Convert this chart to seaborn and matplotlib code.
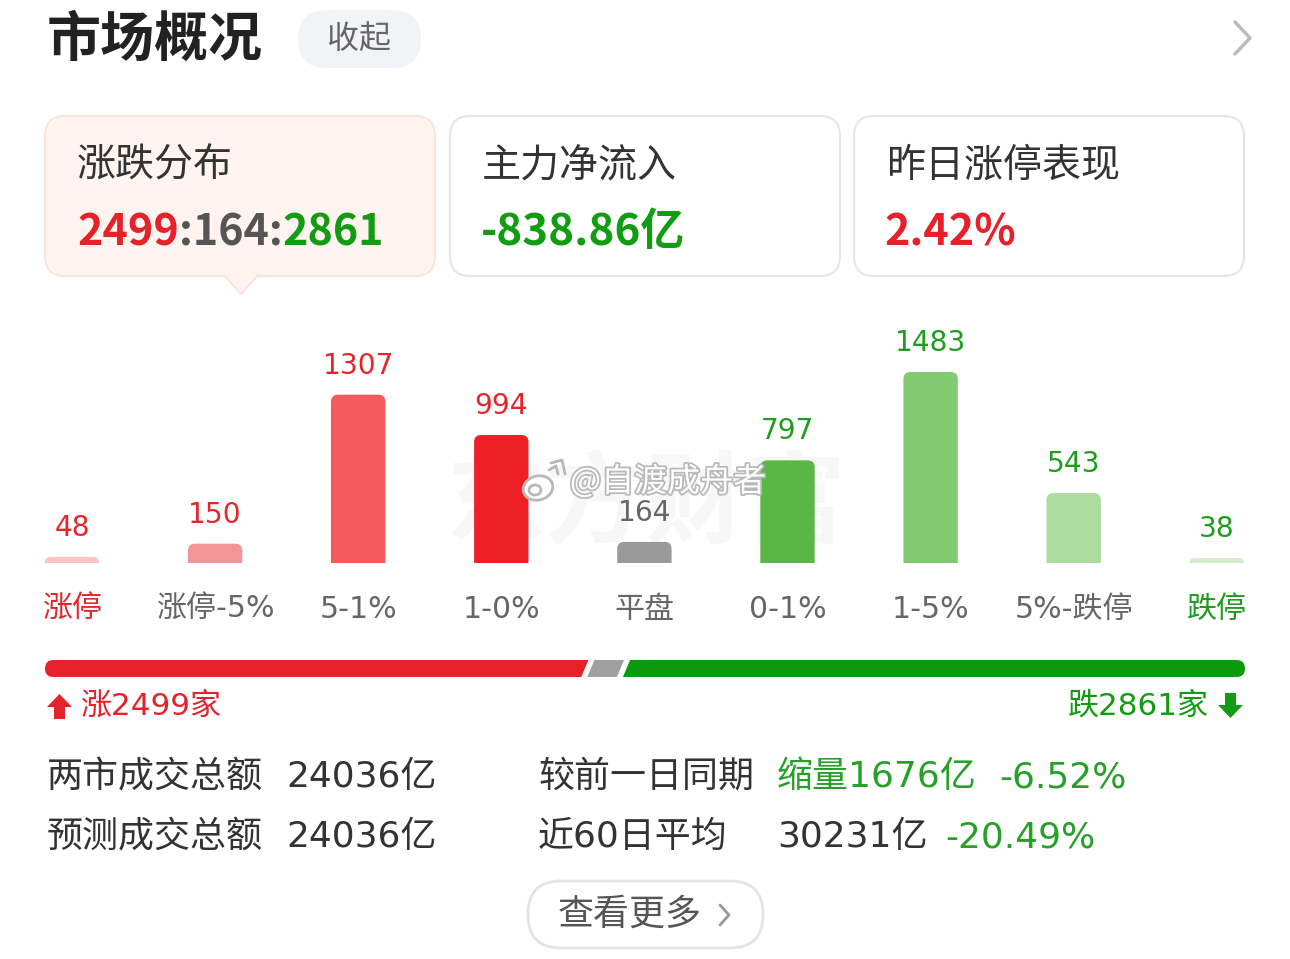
import matplotlib
matplotlib.use("Agg")
import matplotlib.pyplot as plt
import matplotlib.patheffects as pe
import seaborn as sns
from matplotlib.patches import FancyBboxPatch, Polygon, Ellipse

# data
categories = ['涨停', '涨停-5%', '5-1%', '1-0%', '平盘', '0-1%', '1-5%', '5%-跌停', '跌停']
counts = [48, 150, 1307, 994, 164, 797, 1483, 543, 38]
bar_colors = ['#f9c5c9', '#f39499', '#f45a5e', '#ee1f25', '#9a9a9a',
              '#5ab645', '#80cb6f', '#acdb9f', '#d3edcc']
label_colors = ['#e3262c'] * 4 + ['#666666'] + ['#1d9c1d'] * 4
tick_colors = ['#e3262c'] + ['#666666'] * 7 + ['#1d9c1d']
up_n, flat_n, down_n = 2499, 164, 2861
net_flow = '-838.86亿'
yest_limit = '2.42%'

RED = '#e5222a'
GREEN = '#119c11'
TXT = '#333333'
LGREEN = '#26a026'

sns.set_theme(style='white')
plt.rcParams['font.family'] = ['DejaVu Sans', 'Noto Sans CJK SC']
CJK = ['Noto Sans CJK SC', 'DejaVu Sans']

W, H = 1290, 959
fig = plt.figure(figsize=(W / 100, H / 100), dpi=100)
fig.patch.set_facecolor('white')

bg = fig.add_axes([0, 0, 1, 1])
bg.set_xlim(0, W)
bg.set_ylim(H, 0)
bg.axis('off')


def pt(px):
    return px * 0.72


# header
bg.text(47, 40, '市场概况', fontsize=pt(54), fontweight='bold', color='#222222', va='center',
        family=CJK)
bg.add_patch(FancyBboxPatch((298, 10), 123, 58, boxstyle='round,pad=0,rounding_size=29',
                            fc='#f2f3f6', ec='none'))
bg.text(359, 39, '收起', fontsize=pt(32), color='#666666', va='center', ha='center', family=CJK)
bg.plot([1235, 1250, 1235], [22, 38, 54], color='#bbbbbb', lw=2.5, solid_capstyle='round')

# cards
cards = [(45, '涨跌分布'), (450, '主力净流入'), (854, '昨日涨停表现')]
for i, (x, title) in enumerate(cards):
    fc = '#fff4f0' if i == 0 else 'white'
    ec = '#fbe3db' if i == 0 else '#e6e6e6'
    bg.add_patch(FancyBboxPatch((x, 116), 390, 160, boxstyle='round,pad=0,rounding_size=20',
                                fc=fc, ec=ec, lw=1.5, zorder=2))
    bg.text(x + 32, 166, title, fontsize=pt(39), color='#333333', va='center', zorder=3, family=CJK)
bg.add_patch(Polygon([[224, 275], [241, 294], [258, 275]], closed=True,
                     fc='#fff4f0', ec='#fbe3db', lw=1.5, zorder=2))
bg.add_patch(Polygon([[223, 273], [259, 273], [241, 292]], closed=True,
                     fc='#fff4f0', ec='none', zorder=2))

fig.canvas.draw()
r = fig.canvas.get_renderer()
seg = [(f'{up_n}', RED), (f':{flat_n}:', '#555555'), (f'{down_n}', GREEN)]
x = 77
for s, c in seg:
    t = bg.text(x, 232, s, fontsize=pt(43), fontweight='bold', color=c, va='center', zorder=3,
                family=CJK)
    x += t.get_window_extent(renderer=r).width
bg.text(481, 232, net_flow, fontsize=pt(44), fontweight='bold', color=GREEN, va='center', zorder=3,
        family=CJK)
bg.text(884, 232, yest_limit, fontsize=pt(43), fontweight='bold', color=RED, va='center', zorder=3,
        family=CJK)

# faint background watermark
bg.text(645, 505, '东方财富', fontsize=pt(100), fontweight='bold', color='#f7f7f7',
        ha='center', va='center', zorder=0, family=CJK)

# bar chart
spacing = 143.1
base_px = 563
ymax = 1800
px_per = 191 / 1483
ax_h = ymax * px_per
ax = fig.add_axes([(72 - spacing / 2) / W, (H - base_px) / H, spacing * 9 / W, ax_h / H])
ax.patch.set_alpha(0)
sns.barplot(x=categories, y=counts, hue=categories, palette=bar_colors, legend=False,
            width=0.38, saturation=1, ax=ax)
ax.set_xlim(-0.5, 8.5)
ax.set_ylim(0, ymax)
ax.set_xlabel('')
ax.set_ylabel('')
ax.set_yticks([])
sns.despine(ax=ax, left=True, bottom=True)
ax.tick_params(axis='x', length=0, pad=pt(32), labelsize=pt(30))
for lab, c in zip(ax.get_xticklabels(), tick_colors):
    lab.set_color(c)

# rounded tops
bars = [p for cont in ax.containers for p in cont]
x_unit = spacing
for p in bars:
    h_px = p.get_height() * px_per
    rad = min(7, h_px)
    rx = rad / x_unit
    ry = rad / px_per
    fb = FancyBboxPatch((p.get_x(), -ry), p.get_width(), p.get_height() + ry,
                        boxstyle=f'round,pad=0,rounding_size={rx}', mutation_aspect=ry / rx,
                        fc=p.get_facecolor(), ec='none', zorder=2)
    ax.add_patch(fb)
    p.set_visible(False)

for p, v, c in zip(bars, counts, label_colors):
    ax.annotate(f'{v}', (p.get_x() + p.get_width() / 2, v), xytext=(0, pt(29)),
                textcoords='offset points', ha='center', va='center',
                fontsize=pt(28), color=c)

# weibo watermark
fig.text(668 / W, 1 - 482 / H, '@自渡成舟者', fontsize=pt(33), color='white',
         ha='center', va='center', family=CJK,
         path_effects=[pe.withStroke(linewidth=2.5, foreground='#b8b8b8')])
wb = fig.add_axes([0, 0, 1, 1], zorder=5)
wb.set_xlim(0, W)
wb.set_ylim(H, 0)
wb.axis('off')
wb.add_patch(Ellipse((538, 488), 30, 24, angle=-15, fc='white', ec='#b8b8b8', lw=2))
wb.add_patch(Ellipse((535, 490), 12, 10, fc='white', ec='#b8b8b8', lw=2))
wb.plot([549, 556, 558], [470, 466, 474], color='#b8b8b8', lw=2)
wb.plot([551, 562, 565], [463, 460, 474], color='#b8b8b8', lw=2)

# progress bar
x0, x1 = 45, 1245
y0, y1 = 660, 677
tot = up_n + flat_n + down_n
b1 = x0 + (x1 - x0) * up_n / tot
b2 = b1 + (x1 - x0) * flat_n / tot
hgt = y1 - y0
bg.add_patch(FancyBboxPatch((x0, y0), b1 + 15 - x0, hgt, boxstyle=f'round,pad=0,rounding_size={hgt/2}',
                            fc=RED, ec='none', zorder=2))
bg.add_patch(FancyBboxPatch((b2 - 15, y0), x1 - b2 + 15, hgt, boxstyle=f'round,pad=0,rounding_size={hgt/2}',
                            fc='#0b9a0b', ec='none', zorder=2))
sl = 4
bg.add_patch(Polygon([[b1 - sl, y1], [b1 + sl, y0], [b2 + sl, y0], [b2 - sl, y1]],
                     fc='#a0a0a0', ec='none', zorder=3))
gap = 3
for b in (b1, b2):
    bg.add_patch(Polygon([[b - sl - gap, y1 + 1], [b + sl - gap, y0 - 1], [b + sl + gap, y0 - 1],
                          [b - sl + gap, y1 + 1]], fc='white', ec='none', zorder=4))

# up / down labels
bg.add_patch(Polygon([[47, 707], [59.5, 694], [72, 707], [65, 707], [65, 719], [54, 719], [54, 707]],
                     fc=RED, ec='none'))
bg.text(81, 706, f'涨{up_n}家', fontsize=pt(31), color=RED, va='center')
bg.add_patch(Polygon([[1218, 705], [1230.5, 718], [1243, 705], [1236, 705], [1236, 693], [1225, 693],
                      [1225, 705]], fc=GREEN, ec='none'))
bg.text(1209, 706, f'跌{down_n}家', fontsize=pt(31), color=GREEN, va='center', ha='right')

# stats rows
fs = pt(36)
rows = [
    (777, [(47, '两市成交总额', TXT), (286, '24036亿', TXT), (538, '较前一日同期', TXT),
           (777, '缩量1676亿', LGREEN), (999, '-6.52%', LGREEN)]),
    (837, [(47, '预测成交总额', TXT), (286, '24036亿', TXT), (538, '近60日平均', TXT),
           (777, '30231亿', TXT), (945, '-20.49%', LGREEN)]),
]
for yy, items in rows:
    for xx, s, c in items:
        bg.text(xx, yy, s, fontsize=fs, color=c, va='center')

# more button
bg.add_patch(FancyBboxPatch((528, 881), 235, 67, boxstyle='round,pad=0,rounding_size=33',
                            fc='white', ec='#e4e4e4', lw=2))
bg.text(558, 915, '查看更多', fontsize=pt(36), color='#555555', va='center', family=CJK)
bg.plot([720, 729, 720], [905, 915, 925], color='#999999', lw=2)

fig.savefig('out.png', dpi=100, facecolor='white')
